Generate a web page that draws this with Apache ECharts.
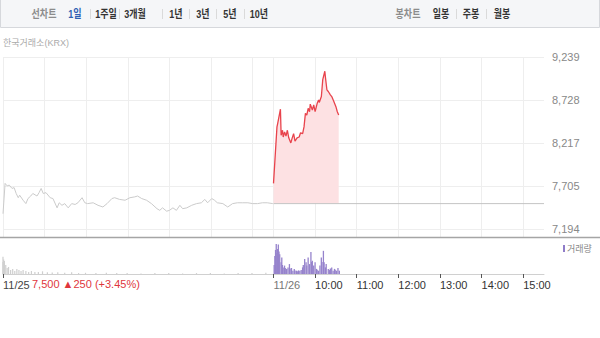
<!DOCTYPE html>
<html><head><meta charset="utf-8">
<script src="https://cdn.jsdelivr.net/npm/echarts@6/dist/echarts.min.js"></script>
<style>html,body{margin:0;padding:0;background:#fff}#c{width:600px;height:338px}</style>
</head><body><div id="c"></div>
<script>
// ---------- data ----------
const prevDate = '11/25', curDate = '11/26';
const prevClose = 7500, change = 250, changePct = '+3.45%';
const priceTicks = [7194, 7705, 8217, 8728, 9239];
const hourLabels = ['10:00', '11:00', '12:00', '13:00', '14:00', '15:00'];
const periodTabs = ['1일', '1주일', '3개월', '1년', '3년', '5년', '10년'];
const candleTabs = ['일봉', '주봉', '월봉'];

const prevTimes = ['09:00','09:03','09:06','09:09','09:13','09:16','09:19','09:22','09:24','09:29','09:33','09:36','09:40','09:43','09:49','09:52','09:55','09:58','10:02','10:08','10:12','10:18','10:21','10:25','10:29','10:34','10:39','10:44','10:48','10:54','10:58','11:02','11:10','11:17','11:24','11:30','11:37','11:41','11:48','11:56','12:03','12:10','12:14','12:20','12:27','12:34','12:42','12:46','12:50','12:56','13:00','13:05','13:10','13:15','13:19','13:25','13:32','13:39','13:46','13:51','13:55','14:01','14:05','14:09','14:17','14:24','14:31','14:38','14:45','14:53','15:00','15:07','15:14','15:21','15:29'];
const prevPrices = [7380,7740,7710,7720,7680,7690,7620,7570,7600,7540,7500,7560,7590,7620,7590,7630,7680,7620,7630,7570,7560,7450,7510,7480,7500,7450,7500,7490,7510,7570,7510,7500,7510,7480,7460,7500,7560,7570,7550,7540,7570,7580,7590,7560,7540,7500,7440,7420,7450,7410,7420,7450,7420,7480,7440,7450,7480,7500,7510,7550,7510,7560,7540,7510,7500,7460,7500,7510,7510,7510,7500,7500,7510,7510,7500];

const curTimes = ['09:00','09:05','09:06','09:10','09:11','09:13','09:14','09:16','09:18','09:20','09:22','09:25','09:27','09:29','09:31','09:34','09:37','09:39','09:42','09:44','09:46','09:48','09:50','09:52','09:53','09:56','09:58','10:00','10:03','10:05','10:06','10:09','10:11','10:14','10:15','10:17','10:19','10:22','10:24','10:27','10:30','10:32','10:34'];
const curPrices = [7740,8410,8450,8620,8310,8370,8290,8350,8300,8370,8280,8220,8280,8330,8240,8280,8290,8340,8330,8410,8570,8550,8630,8590,8680,8610,8670,8590,8690,8730,8700,8770,8970,9070,8990,8850,8830,8790,8770,8710,8650,8590,8550];

const prevVolTimes = ['09:00','09:01','09:02','09:03','09:05','09:07','09:09','09:12','09:15','09:18','09:21','09:24','09:27','09:30','09:34','09:38','09:42','09:47','09:52','09:58','10:05','10:12','10:20','10:30','10:40','10:50','11:00','11:15','11:30','11:45','12:00','12:20','12:40','13:00','13:20','13:40','14:00','14:20','14:40','15:00','15:20'];
const prevVols = [40000,57000,48000,43000,30000,20000,23000,13000,17000,10000,17000,13000,10000,13000,10000,7000,10000,7000,7000,9000,6000,5000,6000,4000,6000,3000,4000,3000,4000,3000,3000,2000,3000,3000,2000,3000,3000,2000,3000,3000,4000];

const curVolTimes = ['09:00','09:01','09:02','09:03','09:04','09:05','09:06','09:07','09:08','09:10','09:11','09:12','09:13','09:15','09:16','09:18','09:20','09:22','09:23','09:25','09:27','09:29','09:30','09:32','09:34','09:35','09:37','09:39','09:41','09:42','09:44','09:46','09:47','09:49','09:51','09:53','09:54','09:55','09:57','09:59','10:01','10:02','10:04','10:06','10:08','10:09','10:11','10:12','10:14','10:15','10:18','10:20','10:21','10:23','10:25','10:27','10:28','10:30','10:32','10:34'];
const curVols = [30000,60000,80000,100000,70000,83000,98000,75000,66000,39000,55000,30000,22000,28000,20000,17000,22000,33000,18000,20000,11000,17000,12000,11000,9000,12000,11000,13000,22000,30000,50000,39000,28000,55000,33000,73000,40000,44000,28000,39000,17000,14000,11000,28000,55000,40000,77000,39000,22000,33000,17000,13000,18000,22000,11000,17000,14000,11000,20000,11000];

// ---------- helpers ----------
function toX(day, hhmm) {
  const p = hhmm.split(':');
  return day * 390 + (+p[0] * 60 + +p[1] - 540);
}
function hourX(label) { return toX(1, label); }
const fmt = v => v.toLocaleString('en-US');

const prevLine = prevTimes.map((t, i) => [toX(0, t), prevPrices[i]]);
const curLine = curTimes.map((t, i) => [toX(1, t), curPrices[i]]);
const refLine = [[toX(1, '09:00'), prevClose], [toX(1, '15:30'), prevClose]];
const prevVolData = prevVolTimes.map((t, i) => [toX(0, t), prevVols[i]]);
const curVolData = curVolTimes.map((t, i) => [toX(1, t), curVols[i]]);

const dayStart = toX(0, '09:00'), dayEnd = toX(1, '15:30');
const gridHours = [];
['09:00','10:00','11:00','12:00','13:00','14:00','15:00'].forEach(h => gridHours.push(toX(0, h)));
gridHours.push(toX(1, '09:00'));
hourLabels.forEach(h => gridHours.push(hourX(h)));
const axisTicks = [toX(0, '09:00'), toX(1, '09:00')].concat(hourLabels.map(hourX));
const labelMap = {};
labelMap[toX(0, '09:00')] = '{d|' + prevDate + '}';
labelMap[toX(1, '09:00')] = '{e|' + curDate + '}';
hourLabels.forEach(h => labelMap[hourX(h)] = '{t|' + h + '}');

const FONT = "'Liberation Sans', 'Noto Sans CJK KR', sans-serif";

// ---------- header graphics ----------
const graphics = [];
function headText(x, txt, color) {
  return { type: 'text', x: x, y: 14, scaleX: 0.82, style: { text: txt, fill: color, font: "bold 11px " + FONT, textAlign: 'center', textVerticalAlign: 'middle' } };
}
graphics.push({ type: 'rect', shape: { x: 0.5, y: -1, width: 599, height: 28.5 }, style: { fill: '#f5f6f8', stroke: '#d6d8dc', lineWidth: 1 }, silent: true });
const tabX = [75, 106, 135, 176, 203, 230, 259];
const sepX = [90, 119, 162, 189, 216, 244];
graphics.push(headText(44, '선차트', '#8c8c8c'));
periodTabs.forEach((t, i) => graphics.push(headText(tabX[i], t, i === 0 ? '#2f5fb3' : '#333')));
sepX.forEach(x => graphics.push({ type: 'line', shape: { x1: x + 0.5, y1: 9, x2: x + 0.5, y2: 19 }, style: { stroke: '#dadada', lineWidth: 1 } }));
graphics.push(headText(408, '봉차트', '#8c8c8c'));
const cTabX = [441, 471, 502];
candleTabs.forEach((t, i) => graphics.push(headText(cTabX[i], t, '#333')));
[456, 486].forEach(x => graphics.push({ type: 'line', shape: { x1: x + 0.5, y1: 9, x2: x + 0.5, y2: 19 }, style: { stroke: '#dadada', lineWidth: 1 } }));
graphics.push({ type: 'text', x: 3, y: 43, style: { text: '한국거래소(KRX)', fill: '#aaa', font: "9px " + FONT, textVerticalAlign: 'middle' } });
graphics.push({ type: 'line', shape: { x1: 0, y1: 237.5, x2: 600, y2: 237.5 }, style: { stroke: '#a5a5a5', lineWidth: 1.5 }, z: 10 });
graphics.push({ type: 'rect', shape: { x: 563, y: 245, width: 2, height: 7 }, style: { fill: '#8f7cc8' } });
graphics.push({ type: 'text', x: 567, y: 249, style: { text: '거래량', fill: '#888', font: "9px " + FONT, textVerticalAlign: 'middle' } });
graphics.push({ type: 'text', x: 32, y: 284, style: { text: fmt(prevClose) + ' ▲' + fmt(change) + ' (' + changePct + ')', fill: '#e0363c', font: "11px " + FONT, textVerticalAlign: 'middle' } });

const chart = echarts.init(document.getElementById('c'), null, { renderer: 'svg' });
chart.setOption({
  animation: false,
  textStyle: { fontFamily: FONT },
  grid: [
    { left: 3, right: 56, top: 57, height: 180 },
    { left: 3, right: 56, top: 237, height: 37 }
  ],
  xAxis: [
    { type: 'value', gridIndex: 0, min: dayStart, max: dayEnd,
      axisLine: { show: false }, axisTick: { show: false, customValues: gridHours },
      axisLabel: { show: false, customValues: gridHours },
      splitLine: { show: true, lineStyle: { color: '#eeeeee', width: 1 } } },
    { type: 'value', gridIndex: 1, min: dayStart, max: dayEnd,
      axisLine: { show: true, lineStyle: { color: '#d0d0d0' } },
      axisTick: { show: true, customValues: axisTicks, length: 4, lineStyle: { color: '#555' } },
      axisLabel: { show: true, customValues: axisTicks, align: 'left', margin: 5, fontSize: 11,
        formatter: v => labelMap[v] || '',
        rich: { d: { color: '#444', fontSize: 11 }, e: { color: '#777', fontSize: 11 }, t: { color: '#333', fontSize: 11 } } },
      splitLine: { show: false } }
  ],
  yAxis: [
    { type: 'value', gridIndex: 0, position: 'right', min: 7104, max: 9239,
      axisLine: { show: false }, axisTick: { show: false, customValues: priceTicks },
      axisLabel: { customValues: priceTicks, formatter: v => fmt(v), color: '#888', fontSize: 11, margin: 8 },
      splitLine: { show: true, lineStyle: { color: '#eeeeee' } } },
    { type: 'value', gridIndex: 1, min: 0, max: 123000, show: false, splitLine: { show: false } }
  ],
  series: [
    { type: 'line', xAxisIndex: 0, yAxisIndex: 0, data: curLine, symbol: 'none',
      lineStyle: { color: '#e8434c', width: 1.3 },
      areaStyle: { color: '#fde1e3', opacity: 1, origin: prevClose }, z: 2 },
    { type: 'line', xAxisIndex: 0, yAxisIndex: 0, data: prevLine, symbol: 'none',
      lineStyle: { color: '#cbcbcb', width: 1 }, z: 3 },
    { type: 'line', xAxisIndex: 0, yAxisIndex: 0, data: refLine, symbol: 'none',
      lineStyle: { color: '#c4c4c4', width: 1 }, z: 3 },
    { type: 'bar', xAxisIndex: 1, yAxisIndex: 1, data: prevVolData, barWidth: 1.2,
      itemStyle: { color: '#cfcfcf' } },
    { type: 'bar', xAxisIndex: 1, yAxisIndex: 1, data: curVolData, barWidth: 1.3,
      itemStyle: { color: '#9683cc' } }
  ],
  graphic: graphics
});
</script>
</body></html>
